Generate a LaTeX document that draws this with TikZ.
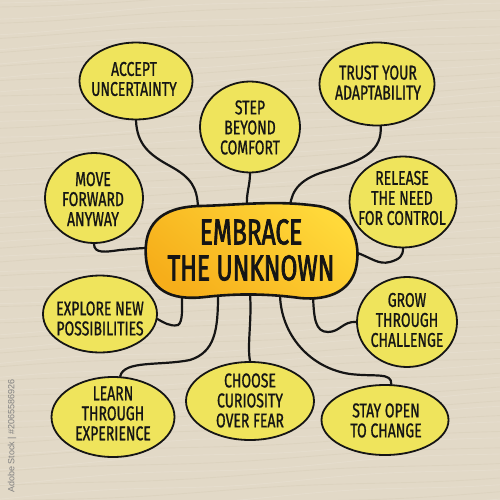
\documentclass[tikz,border=0pt]{standalone}
\usepackage{fontspec}
\usetikzlibrary{shapes.geometric}
\newfontfamily\hand{Fira Sans}[FakeStretch=0.7, FakeBold=1]
\newfontfamily\handcore{Fira Sans}[FakeStretch=0.68, FakeBold=2]
\newfontfamily\wmfont{Liberation Sans}
\definecolor{paper}{HTML}{E2D9C7}
\definecolor{paperlight}{HTML}{EAE3D5}
\definecolor{paperdark}{HTML}{D6CCB7}
\definecolor{bubblefill}{HTML}{EFE45C}
\definecolor{ink}{HTML}{151515}
\definecolor{blobyellow}{HTML}{FFD93A}
\definecolor{bloborange}{HTML}{F6AE1A}
\begin{document}
\begin{tikzpicture}[x=1pt,y=-1pt,
  bubble/.style={ellipse, draw=ink, line width=1.8pt, fill=bubblefill, inner sep=0pt},
  bubbletext/.style={align=center, inner sep=0pt, text=ink, font=\hand\fontsize{20}{20}\selectfont},
  coretext/.style={align=center, inner sep=0pt, text=ink, font=\handcore\fontsize{36}{36}\selectfont},
  link/.style={draw=ink, line width=2.2pt, line cap=round},
  grain/.style={line width=0.9pt, opacity=0.45}]
\useasboundingbox (0,0) rectangle (500,500);
\fill[paper] (0,0) rectangle (500,500);
% paper grain
\foreach \i in {0,...,35} {
  \pgfmathsetmacro\yy{\i*15+3}
  \draw[grain, color=paperlight] plot[domain=0:500, samples=30, smooth] (\x, {\yy - 0.06*\x + 1.8*sin(1.3*\x + 37*\i)});
  \draw[grain, color=paperdark] plot[domain=0:500, samples=30, smooth] (\x, {\yy + 4 - 0.05*\x + 1.5*sin(1.1*\x + 53*\i)});
}
% bubbles
\node[bubble, minimum width=113pt, minimum height=77pt] (accept) at (136,81) {};
\node[bubble, minimum width=100pt, minimum height=91pt] (step) at (250,127) {};
\node[bubble, minimum width=115pt, minimum height=83pt] (trust) at (377,84) {};
\node[bubble, minimum width=98pt, minimum height=90pt] (move) at (94,198) {};
\node[bubble, minimum width=107pt, minimum height=91pt] (release) at (403,202) {};
\node[bubble, minimum width=114pt, minimum height=77pt] (explore) at (100,314) {};
\node[bubble, minimum width=100pt, minimum height=90pt] (grow) at (407,322) {};
\node[bubble, minimum width=123pt, minimum height=80pt] (learn) at (113,417) {};
\node[bubble, minimum width=128pt, minimum height=78pt] (choose) at (250,401) {};
\node[bubble, minimum width=127pt, minimum height=70pt] (stay) at (385,420) {};
% texts
\node[bubbletext] (acceptT) at (134,79) {ACCEPT\\UNCERTAINTY};
\node[bubbletext] (stepT) at (250,127.5) {STEP\\BEYOND\\COMFORT};
\node[bubbletext] (trustT) at (378,82.5) {TRUST YOUR\\ADAPTABILITY};
\node[bubbletext] (moveT) at (93,199) {MOVE\\FORWARD\\ANYWAY};
\node[bubbletext] (releaseT) at (402,198) {RELEASE\\THE NEED\\FOR CONTROL};
\node[bubbletext] (exploreT) at (100,318.5) {EXPLORE NEW\\POSSIBILITIES};
\node[bubbletext] (growT) at (407,320) {GROW\\THROUGH\\CHALLENGE};
\node[bubbletext] (learnT) at (113,413.5) {LEARN\\THROUGH\\EXPERIENCE};
\node[bubbletext] (chooseT) at (250,400.5) {CHOOSE\\CURIOSITY\\OVER FEAR};
\node[bubbletext] (stayT) at (386,420.5) {STAY OPEN\\TO CHANGE};
% attachment points on the central blob
\coordinate (cAcc) at (198,207);
\coordinate (cStep) at (247,207);
\coordinate (cTrust) at (290,206);
\coordinate (cMove) at (148,248);
\coordinate (cRel) at (355,252);
\coordinate (cGrow) at (313,296);
\coordinate (cStay) at (280,295);
\coordinate (cChoose) at (250,294);
\coordinate (cLearn) at (218,295);
\coordinate (cExp) at (182,296);
% connectors
\draw[link] (accept.south) .. controls (137,145) and (150,155) .. (170,166) .. controls (192,178) and (197,188) .. (cAcc);
\draw[link] (step.south) .. controls (250,186) and (246,193) .. (cStep);
\draw[link] (trust.-85) .. controls (382,150) and (365,160) .. (330,170) .. controls (300,178) and (292,190) .. (cTrust);
\draw[link] (move.south) .. controls (94,254) and (106,252) .. (120,250) .. controls (132,249) and (140,248) .. (cMove);
\draw[link] (cRel) .. controls (372,258) and (378,265) .. (390,262) .. controls (400,259) and (403,256) .. (release.south);
\draw[link] (cGrow) .. controls (314,318) and (315,332) .. (328,332) .. controls (340,332) and (343,321) .. (grow.west);
\draw[link] (cStay) .. controls (281,335) and (310,368) .. (350,374) .. controls (375,377) and (392,372) .. (stay.80);
\draw[link] (cChoose) .. controls (252,320) and (247,345) .. (choose.north);
\draw[link] (cLearn) .. controls (218,330) and (215,352) .. (190,360) .. controls (160,366) and (124,360) .. (learn.80);
\draw[link] (explore.-5) .. controls (163,322) and (170,327) .. (178,325) .. controls (183,322) and (182,308) .. (cExp);
% central blob
\shadedraw[draw=ink, line width=2.6pt, top color=blobyellow, bottom color=bloborange, shading angle=-40]
  (146,258) .. controls (143,225) and (160,207) .. (200,206)
  .. controls (240,205) and (275,200) .. (318,206)
  .. controls (350,211) and (360,240) .. (357,262)
  .. controls (354,290) and (330,301) .. (300,298)
  .. controls (270,294) and (240,293) .. (205,297)
  .. controls (170,301) and (149,290) .. (146,258) -- cycle;
\node[coretext] (core) at (251,250) {EMBRACE\\THE UNKNOWN};
% stock watermark
\node[rotate=90, inner sep=0pt, font=\wmfont\fontsize{9}{9}\selectfont, text=black!50] (wm) at (12,436) {Adobe Stock | \#2065586926};
\end{tikzpicture}
\end{document}
